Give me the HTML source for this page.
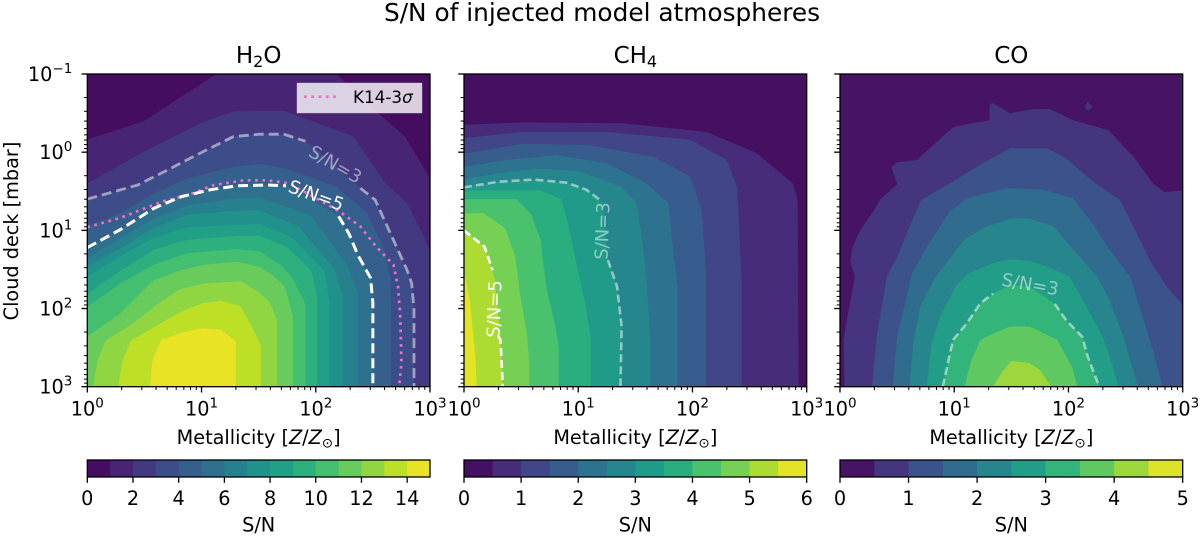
<!DOCTYPE html>
<html lang="en">
<head>
<meta charset="utf-8">
<title>S/N of injected model atmospheres</title>
<style>
html,body{margin:0;padding:0;background:#fff;}
svg{display:block;}
text{font-family:"DejaVu Sans","Liberation Sans",sans-serif;fill:#000;}
</style>
</head>
<body>
<svg id="fig" xmlns="http://www.w3.org/2000/svg" width="1200" height="536" viewBox="0 0 1200 536">
  <rect x="0" y="0" width="1200" height="536" fill="#fff"/>
  <text x="602" y="21" font-size="24.8" text-anchor="middle">S/N of injected model atmospheres</text>
</svg>
<script>
/* Axis tick exponents (log10) */
const metallicityTicks = [0, 1, 2, 3];
const cloudDeckTicks = [-1, 0, 1, 2, 3];
const minorMultipliers = [2, 3, 4, 5, 6, 7, 8, 9];

/* Colour-bar level boundaries and tick labels */
const h2oBoundaries = [0,1,2,3,4,5,6,7,8,9,10,11,12,13,14,15];
const h2oBarTicks = [0,2,4,6,8,10,12,14];
const ch4Boundaries = [0,0.5,1,1.5,2,2.5,3,3.5,4,4.5,5,5.5,6];
const ch4BarTicks = [0,1,2,3,4,5,6];
const coBoundaries = [0,0.5,1,1.5,2,2.5,3,3.5,4,4.5,5];
const coBarTicks = [0,1,2,3,4,5];

/* Contours of S/N: [log10 metallicity, log10 cloud deck pressure], one per inner level */
const h2oContours = [
 [[0,-.16],[.50,-.40],[1.13,-1],[2.18,-1],[2.53,-.52],[2.78,-.20],[3,.33]],
 [[0,.40],[.50,-.01],[.99,-.37],[1.28,-.52],[1.51,-.53],[1.72,-.53],[2.15,-.30],[2.33,-.20],[2.61,.40],[2.80,.65],[3,1.25]],
 [[0,.60],[.44,.42],[.70,.23],[.95,.04],[1.28,-.20],[1.51,-.23],[1.72,-.23],[1.95,-.11],[2.39,.46],[2.52,.61],[2.62,.93],[2.80,1.51],[2.84,1.68],[2.86,2.02],[2.86,3]],
 [[0,.95],[.29,.78],[.58,.53],[.88,.33],[1.28,.19],[1.51,.15],[1.74,.21],[2.18,.44],[2.45,.78],[2.60,1.25],[2.65,1.60],[2.66,2],[2.66,3]],
 [[0,1.22],[.29,.99],[.58,.72],[.82,.57],[1.08,.48],[1.31,.43],[1.58,.42],[1.77,.44],[2.20,.82],[2.29,1.04],[2.37,1.32],[2.48,1.61],[2.50,1.93],[2.50,3]],
 [[0,1.35],[.29,1.10],[.58,.85],[.88,.68],[1.31,.59],[1.51,.58],[1.95,.80],[2.28,1.45],[2.37,1.80],[2.37,3]],
 [[0,1.46],[.29,1.23],[.58,.97],[.88,.80],[1.31,.75],[1.51,.74],[1.85,.95],[2.16,1.49],[2.24,1.85],[2.24,3]],
 [[0,1.59],[.29,1.33],[.58,1.10],[.88,.96],[1.31,.93],[1.51,.92],[1.80,1.10],[2.07,1.51],[2.12,1.90],[2.12,3]],
 [[0,1.81],[.29,1.52],[.58,1.25],[.88,1.12],[1.31,1.07],[1.51,1.07],[1.75,1.22],[1.96,1.51],[2.01,1.85],[2.01,3]],
 [[0,1.98],[.29,1.68],[.58,1.44],[.88,1.29],[1.31,1.24],[1.51,1.27],[1.70,1.45],[1.80,1.62],[1.91,1.95],[1.91,3]],
 [[0,2.36],[.29,2.06],[.58,1.64],[.82,1.51],[1.02,1.44],[1.31,1.40],[1.51,1.47],[1.63,1.58],[1.73,1.72],[1.80,2.10],[1.80,3]],
 [[.05,3],[.09,2.66],[.16,2.41],[.38,2.21],[.63,1.93],[.80,1.76],[1.02,1.68],[1.34,1.65],[1.51,1.80],[1.60,1.93],[1.66,2.15],[1.66,3]],
 [[.27,3],[.31,2.66],[.38,2.41],[.64,2.19],[.85,2.02],[1.02,1.93],[1.17,1.90],[1.34,1.97],[1.44,2.23],[1.52,2.47],[1.52,3]],
 [[.55,3],[.57,2.66],[.65,2.40],[.85,2.30],[1.01,2.25],[1.17,2.27],[1.30,2.42],[1.30,3]]
];
const ch4Contours = [
 [[0,-.35],[.52,-.38],[1.39,-.37],[2.12,-.26],[2.56,.01],[2.88,.40],[2.92,.61],[2.93,3]],
 [[0,-.18],[.52,-.26],[1.25,-.26],[1.98,-.16],[2.30,.10],[2.39,.44],[2.40,.70],[2.43,1.64],[2.43,3]],
 [[0,.02],[.52,-.11],[1.10,-.09],[1.66,.06],[1.98,.31],[2.08,.74],[2.12,1.55],[2.12,3]],
 [[0,.19],[.37,.10],[.81,.04],[1.25,.14],[1.60,.40],[1.79,.65],[1.82,1.12],[1.87,1.72],[1.87,3]],
 [[0,.35],[.37,.25],[.67,.21],[1.02,.25],[1.37,.44],[1.51,.65],[1.56,1.12],[1.60,1.68],[1.63,2.40],[1.63,3]],
 [[0,.45],[.29,.38],[.61,.35],[.90,.39],[1.07,.48],[1.22,.65],[1.25,1.34],[1.34,1.72],[1.38,2.23],[1.37,3]],
 [[0,.49],[.67,.49],[.85,.60],[.91,.91],[.99,1.46],[1.06,1.93],[1.11,2.40],[1.11,3]],
 [[0,.60],[.46,.60],[.59,.80],[.67,1.12],[.72,1.72],[.80,2.23],[.83,2.49],[.83,3]],
 [[0,.78],[.17,.78],[.36,.97],[.45,1.34],[.49,1.81],[.55,2.32],[.57,2.66],[.57,3]],
 [[0,1.0],[.18,1.21],[.27,1.63],[.32,2.40],[.34,3]],
 [[0,1.53],[.05,1.89],[.10,2.62],[.11,3]]
];
const coContours = [
 [[.04,3],[.03,2.40],[.08,1.98],[.13,1.59],[.09,1.40],[.11,1.21],[.18,.99],[.29,.76],[.35,.61],[.50,.41],[.45,.19],[.50,.13],[.67,.10],[.96,-.28],[1.01,-.33],[1.31,-.41],[1.31,-.60],[1.33,-.63],[1.49,-.50],[1.69,-.55],[1.84,-.55],[2.04,-.41],[2.35,-.28],[2.57,.06],[2.74,.40],[2.84,.51],[3,.49]],
 [[.28,3],[.32,2.36],[.38,1.85],[.41,1.59],[.50,1.34],[.61,.95],[.71,.61],[.96,.40],[1.25,.14],[1.49,-.05],[1.81,-.05],[1.98,.08],[2.22,.38],[2.45,.61],[2.57,.95],[2.71,1.38],[2.86,1.72],[3,1.95]],
 [[.46,3],[.50,2.36],[.57,1.93],[.63,1.55],[.73,1.29],[.80,1.12],[.96,.76],[1.11,.59],[1.46,.46],[1.78,.48],[2.04,.59],[2.19,.87],[2.36,1.25],[2.54,1.59],[2.63,2.02],[2.74,2.53],[2.82,3]],
 [[.61,3],[.64,2.45],[.70,1.98],[.83,1.61],[.95,1.38],[1.09,1.12],[1.28,.95],[1.50,.85],[1.66,.85],[1.87,.95],[2.01,1.19],[2.25,1.59],[2.36,1.89],[2.48,2.36],[2.61,3]],
 [[.76,3],[.80,2.45],[.88,2.10],[1.01,1.72],[1.12,1.55],[1.34,1.42],[1.50,1.37],[1.66,1.39],[1.81,1.46],[2.01,1.59],[2.16,1.98],[2.30,2.36],[2.36,2.62],[2.44,3]],
 [[.90,3],[.95,2.66],[.99,2.40],[1.11,2.19],[1.23,1.93],[1.34,1.81],[1.49,1.70],[1.66,1.72],[1.88,1.94],[1.98,2.15],[2.12,2.36],[2.17,2.62],[2.27,3]],
 [[1.09,3],[1.15,2.66],[1.23,2.40],[1.37,2.30],[1.49,2.23],[1.66,2.23],[1.90,2.40],[2.03,2.74],[2.08,3]],
 [[1.34,3],[1.43,2.79],[1.50,2.67],[1.66,2.70],[1.75,2.79],[1.85,3]]
];
const coIslandLow = [[2.14,-.58],[2.17,-.64],[2.21,-.58],[2.17,-.53]];

/* Labelled dashed S/N contours (broken where the inline label sits) */
const h2oSn3Parts = [
 [[0,.60],[.44,.42],[.70,.23],[.95,.04],[1.28,-.20],[1.51,-.23],[1.72,-.23],[1.91,-.14]],
 [[2.39,.46],[2.52,.61],[2.62,.93],[2.80,1.51],[2.84,1.68],[2.86,2.02],[2.86,3]]
];
const h2oSn5Parts = [
 [[0,1.22],[.29,.99],[.58,.72],[.82,.57],[1.08,.48],[1.31,.43],[1.58,.42],[1.74,.43]],
 [[2.20,.82],[2.29,1.04],[2.37,1.32],[2.48,1.61],[2.50,1.93],[2.50,3]]
];
const ch4Sn3Parts = [
 [[0,.45],[.29,.38],[.61,.35],[.90,.39],[1.07,.48],[1.19,.61]],
 [[1.26,1.38],[1.34,1.72],[1.38,2.23],[1.37,3]]
];
const ch4Sn5Parts = [
 [[0,1.0],[.18,1.21],[.25,1.51]],
 [[.30,2.36],[.32,2.40],[.34,3]]
];
const coSn3Parts = [
 [[.90,3],[.95,2.66],[.99,2.40],[1.11,2.19],[1.23,1.93],[1.34,1.81]],
 [[1.88,1.94],[1.98,2.15],[2.12,2.36],[2.17,2.62],[2.27,3]]
];

/* Literature K14 3-sigma limit */
const k14Limit = [[0,.96],[.29,.84],[.66,.63],[.88,.55],[1.11,.42],[1.37,.36],[1.58,.36],[1.77,.40],[2.21,.76],[2.39,.95],[2.53,1.21],[2.68,1.44],[2.72,1.72],[2.74,2.10],[2.75,2.70],[2.73,3]];

/* Viridis reference stops */
const viridisStops = ['#440154','#482475','#414487','#355f8d','#2a788e','#21918c','#22a884','#44bf70','#7ad151','#bddf26','#fde725'];

const NS = 'http://www.w3.org/2000/svg';
const fig = document.getElementById('fig');

function mk(tag, parent, attrs) {
  const el = document.createElementNS(NS, tag);
  for (const k in attrs) el.setAttribute(k, attrs[k]);
  parent.appendChild(el);
  return el;
}
function viridis(t) {
  const p = Math.max(0, Math.min(1, t)) * (viridisStops.length - 1);
  const i = Math.min(Math.floor(p), viridisStops.length - 2);
  const f = p - i;
  const c = s => [1, 3, 5].map(j => parseInt(s.substr(j, 2), 16));
  const a = c(viridisStops[i]), b = c(viridisStops[i + 1]);
  return 'rgb(' + a.map((v, j) => Math.round(v + (b[j] - v) * f)).join(',') + ')';
}
function bandColor(i, n) { return viridis((i + 0.5) / n); }

const AX_TOP = 74, AX_H = 312.7, AX_W = 342.7;
const BAR_TOP = 460, BAR_H = 17;
const TICK_FS = 19.25;
const SUP_FS = 13.5;
const INLINE_FS = 18;

function xScale(left) { return v => left + v / 3 * AX_W; }
function yScale(v) { return AX_TOP + (v + 1) / 4 * AX_H; }

function pathFrom(points, sx, close) {
  let pts = points.slice();
  if (close) {
    if (pts[pts.length - 1][0] === 3) pts.push([3, 3]);
    if (pts[0][0] === 0) pts.push([0, 3]);
  }
  return 'M' + pts.map(p => sx(p[0]).toFixed(2) + ' ' + yScale(p[1]).toFixed(2)).join('L') + (close ? 'Z' : '');
}

function powerLabel(parent, x, y, base, exp, anchor) {
  const t = mk('text', parent, {x: x, y: y, 'font-size': TICK_FS, 'text-anchor': anchor});
  t.appendChild(document.createTextNode(base));
  const s = mk('tspan', t, {dy: -8, 'font-size': SUP_FS});
  s.textContent = exp;
  return t;
}

function drawTicksX(group, sx) {
  metallicityTicks.forEach(d => {
    const x = sx(d);
    const tk = mk('line', group, {x1: x, x2: x, y1: AX_TOP + AX_H, y2: AX_TOP + AX_H + 5.8, stroke: '#000', 'stroke-width': 1.3});
    
    
    if (d < 3) minorMultipliers.forEach(m => {
      const xm = sx(d + Math.log10(m));
      const mt = mk('line', group, {x1: xm, x2: xm, y1: AX_TOP + AX_H, y2: AX_TOP + AX_H + 3.3, stroke: '#000', 'stroke-width': 1});
      
      
    });
    const lb = powerLabel(group, x, 415.5, '10', String(d), 'middle');
    
    
  });
}
function drawTicksY(group, left, labelled) {
  cloudDeckTicks.forEach(d => {
    const y = yScale(d);
    const tk = mk('line', group, {x1: left - 5.8, x2: left, y1: y, y2: y, stroke: '#000', 'stroke-width': 1.3});
    
    
    if (d < 3) minorMultipliers.forEach(m => {
      const ym = yScale(d + Math.log10(m));
      const mt = mk('line', group, {x1: left - 3.3, x2: left, y1: ym, y2: ym, stroke: '#000', 'stroke-width': 1});
      
      
    });
    if (labelled) {
      const lb = powerLabel(group, left - 15, y + 7, '10', d < 0 ? '\u2212' + Math.abs(d) : String(d), 'end');
      
      
    }
  });
}
function drawDashed(group, sx, parts, color, name, width, dash) {
  parts.forEach(part => {
    const p = mk('path', group, {d: pathFrom(part, sx, false), fill: 'none', stroke: color, 'stroke-width': width, 'stroke-dasharray': dash});
    
    
  });
}
function inlineLabel(group, x, y, rot, text, color, name) {
  const t = mk('text', group, {x: x, y: y, 'font-size': INLINE_FS, 'text-anchor': 'middle', 'dominant-baseline': 'central', transform: 'rotate(' + rot + ' ' + x + ' ' + y + ')'});
  t.style.fill = color;
  t.textContent = text;
  
  
}
function drawColorbar(group, left, boundaries, ticks) {
  const n = boundaries.length - 1;
  const top = boundaries[n];
  const sb = v => left + v / top * AX_W;
  for (let i = 0; i < n; i++) {
    const r = mk('rect', group, {x: sb(boundaries[i]), y: BAR_TOP, width: sb(boundaries[i + 1]) - sb(boundaries[i]) + (i < n - 1 ? 0.4 : 0), height: BAR_H, fill: bandColor(i, n)});
    
    
  }
  const o = mk('rect', group, {x: left, y: BAR_TOP, width: AX_W, height: BAR_H, fill: 'none', stroke: '#000', 'stroke-width': 1.3});
  
  
  ticks.forEach(v => {
    const tk = mk('line', group, {x1: sb(v), x2: sb(v), y1: BAR_TOP + BAR_H, y2: BAR_TOP + BAR_H + 5.8, stroke: '#000', 'stroke-width': 1.3});
    
    
    const lb = mk('text', group, {x: sb(v), y: 505, 'font-size': TICK_FS, 'text-anchor': 'middle'});
    lb.textContent = String(v);
    
    
  });
  const cap = mk('text', group, {x: left + AX_W / 2, y: 531.5, 'font-size': TICK_FS, 'text-anchor': 'middle'});
  cap.textContent = 'S/N';
  
  
}
function xAxisTitle(group, cx) {
  const t = mk('text', group, {x: cx, y: 444, 'font-size': TICK_FS, 'text-anchor': 'middle'});
  t.appendChild(document.createTextNode('Metallicity ['));
  const a = mk('tspan', t, {'font-style': 'italic'}); a.textContent = 'Z';
  t.appendChild(document.createTextNode('/'));
  const b = mk('tspan', t, {'font-style': 'italic'}); b.textContent = 'Z';
  const c = mk('tspan', t, {dy: 3.5, 'font-size': SUP_FS}); c.textContent = '\u2299';
  const d = mk('tspan', t, {dy: -3.5}); d.textContent = ']';
  
  
}
function panelTitle(group, cx, main, sub, tail) {
  const t = mk('text', group, {x: cx, y: 63, 'font-size': 23, 'text-anchor': 'middle'});
  t.appendChild(document.createTextNode(main));
  if (sub) {
    const s = mk('tspan', t, {dy: 4, 'font-size': 16}); s.textContent = sub;
    if (tail) { const r = mk('tspan', t, {dy: -4}); r.textContent = tail; }
  }
  
  
}
function drawBands(group, sx, left, contours, n) {
  const base = mk('rect', group, {x: left, y: AX_TOP, width: AX_W, height: AX_H, fill: bandColor(0, n)});
  
  
  contours.forEach((c, i) => {
    const p = mk('path', group, {d: pathFrom(c, sx, true), fill: bandColor(i + 1, n)});
    
    
  });
}
function drawSpines(group, left) {
  const r = mk('rect', group, {x: left, y: AX_TOP, width: AX_W, height: AX_H, fill: 'none', stroke: '#000', 'stroke-width': 1.3});
  
  
}

const LEFTS = [87.3, 464, 840];
const DIM = 'rgba(255,255,255,0.5)';

/* ---------- H2O ---------- */
const g1 = mk('g', fig, {});


const sx1 = xScale(LEFTS[0]);
drawBands(g1, sx1, LEFTS[0], h2oContours, h2oBoundaries.length - 1);
drawDashed(g1, sx1, h2oSn3Parts, DIM, 'sn3-contour', 2.8, '10 5');
const k14 = mk('path', g1, {d: pathFrom(k14Limit, sx1, false), fill: 'none', stroke: '#ef6fc6', 'stroke-width': 2.7, 'stroke-dasharray': '2.7 4.6'});


drawDashed(g1, sx1, h2oSn5Parts, '#fff', 'sn5-contour', 3, '10 5');
inlineLabel(g1, 335, 165, 30, 'S/N=3', DIM, 'sn3-label');
inlineLabel(g1, 316, 196, 20, 'S/N=5', '#fff', 'sn5-label');
drawSpines(g1, LEFTS[0]);
drawTicksX(g1, sx1);
drawTicksY(g1, LEFTS[0], true);
panelTitle(g1, LEFTS[0] + AX_W / 2, 'H', '2', 'O');
xAxisTitle(g1, LEFTS[0] + AX_W / 2);

/* legend */
const lg = mk('g', g1, {});


const lgBox = mk('rect', lg, {x: 297.3, y: 83.3, width: 124.4, height: 29.4, fill: 'rgba(255,255,255,0.8)', stroke: '#d6d0d8', 'stroke-width': 1});


const lgLine = mk('line', lg, {x1: 304, x2: 337.5, y1: 96.7, y2: 96.7, stroke: '#ef6fc6', 'stroke-width': 2.7, 'stroke-dasharray': '2.7 4.6'});


const lgText = mk('text', lg, {x: 353, y: 103, 'font-size': 16.8});
lgText.appendChild(document.createTextNode('K14-3'));
const sig = mk('tspan', lgText, {'font-style': 'italic'});
sig.textContent = '\u03c3';



const ylab = mk('text', g1, {x: 18, y: 231, 'font-size': TICK_FS, 'text-anchor': 'middle', transform: 'rotate(-90 18 231)'});
ylab.textContent = 'Cloud deck [mbar]';



const cb1 = mk('g', fig, {});


drawColorbar(cb1, LEFTS[0], h2oBoundaries, h2oBarTicks);

/* ---------- CH4 ---------- */
const g2 = mk('g', fig, {});


const sx2 = xScale(LEFTS[1]);
drawBands(g2, sx2, LEFTS[1], ch4Contours, ch4Boundaries.length - 1);
drawDashed(g2, sx2, ch4Sn3Parts, DIM, 'sn3-contour', 2.6, '8 4');
drawDashed(g2, sx2, ch4Sn5Parts, '#fff', 'sn5-contour', 2.6, '8 4');
inlineLabel(g2, 603, 231, -88, 'S/N=3', DIM, 'sn3-label');
inlineLabel(g2, 495, 309, -88, 'S/N=5', '#fff', 'sn5-label');
drawSpines(g2, LEFTS[1]);
drawTicksX(g2, sx2);
drawTicksY(g2, LEFTS[1], false);
panelTitle(g2, LEFTS[1] + AX_W / 2, 'CH', '4', '');
xAxisTitle(g2, LEFTS[1] + AX_W / 2);
const cb2 = mk('g', fig, {});


drawColorbar(cb2, LEFTS[1], ch4Boundaries, ch4BarTicks);

/* ---------- CO ---------- */
const g3 = mk('g', fig, {});


const sx3 = xScale(LEFTS[2]);
drawBands(g3, sx3, LEFTS[2], coContours, coBoundaries.length - 1);
const isl = mk('path', g3, {d: pathFrom(coIslandLow, sx3, false) + 'Z', fill: bandColor(1, coBoundaries.length - 1)});


drawDashed(g3, sx3, coSn3Parts, DIM, 'sn3-contour', 2.6, '8 4');
inlineLabel(g3, 1030, 285, 10, 'S/N=3', DIM, 'sn3-label');
drawSpines(g3, LEFTS[2]);
drawTicksX(g3, sx3);
drawTicksY(g3, LEFTS[2], false);
panelTitle(g3, LEFTS[2] + AX_W / 2, 'CO', '', '');
xAxisTitle(g3, LEFTS[2] + AX_W / 2);
const cb3 = mk('g', fig, {});


drawColorbar(cb3, LEFTS[2], coBoundaries, coBarTicks);
</script>
</body>
</html>
